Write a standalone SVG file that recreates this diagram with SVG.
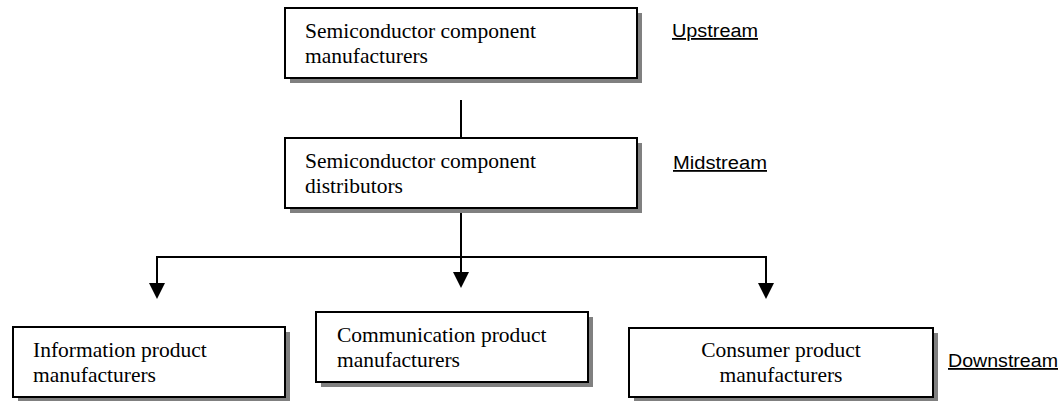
<svg xmlns="http://www.w3.org/2000/svg" width="1063" height="401" viewBox="0 0 1063 401">
  <style>
    .shadow { fill: #808080; }
    .box { fill: #ffffff; stroke: #000000; stroke-width: 2; }
    .txt { font-family: "Liberation Serif", "Times New Roman", serif; font-size: 21.5px; fill: #000000; }
    .stage { font-family: "Liberation Sans", Arial, sans-serif; font-size: 18px; fill: #000000; text-decoration: underline; }
    .wire { fill: none; stroke: #000000; stroke-width: 2; }
    .head { fill: #000000; }
  </style>
  <rect width="1063" height="401" fill="#ffffff"/>

  <!-- connectors -->
  <g id="connectors">
    <line class="wire" x1="461" y1="100" x2="461" y2="138"/>
    <line class="wire" x1="461" y1="208" x2="461" y2="272"/>
    <polyline class="wire" points="157,283 157,257 766,257 766,283"/>
    <polygon class="head" points="149,283 165,283 157,299"/>
    <polygon class="head" points="453,272 469,272 461,288"/>
    <polygon class="head" points="758,283 774,283 766,299"/>
  </g>

  <!-- upstream -->
  <g id="node-manufacturers">
    <rect class="shadow" x="290" y="13" width="352" height="70"/>
    <rect class="box" x="285" y="8" width="352" height="70"/>
    <text class="txt" x="305" y="38">Semiconductor component</text>
    <text class="txt" x="305" y="63">manufacturers</text>
  </g>

  <!-- midstream -->
  <g id="node-distributors">
    <rect class="shadow" x="290" y="143" width="352" height="70"/>
    <rect class="box" x="285" y="138" width="352" height="70"/>
    <text class="txt" x="305" y="168">Semiconductor component</text>
    <text class="txt" x="305" y="193">distributors</text>
  </g>

  <!-- downstream -->
  <g id="node-information">
    <rect class="shadow" x="18" y="332" width="272" height="70"/>
    <rect class="box" x="13" y="327" width="272" height="70"/>
    <text class="txt" x="33" y="357">Information product</text>
    <text class="txt" x="33" y="382">manufacturers</text>
  </g>

  <g id="node-communication">
    <rect class="shadow" x="321" y="317" width="272" height="70"/>
    <rect class="box" x="316" y="312" width="272" height="70"/>
    <text class="txt" x="337" y="342">Communication product</text>
    <text class="txt" x="337" y="367">manufacturers</text>
  </g>

  <g id="node-consumer">
    <rect class="shadow" x="634" y="333" width="304" height="69"/>
    <rect class="box" x="629" y="328" width="304" height="69"/>
    <text class="txt" x="781" y="357" text-anchor="middle">Consumer product</text>
    <text class="txt" x="781" y="382" text-anchor="middle">manufacturers</text>
  </g>

  <!-- stage labels -->
  <g id="stage-labels">
    <text class="stage" x="672" y="37" textLength="86" lengthAdjust="spacingAndGlyphs">Upstream</text>
    <text class="stage" x="673" y="169" textLength="94" lengthAdjust="spacingAndGlyphs">Midstream</text>
    <text class="stage" x="948" y="367" textLength="110" lengthAdjust="spacingAndGlyphs">Downstream</text>
  </g>
</svg>
